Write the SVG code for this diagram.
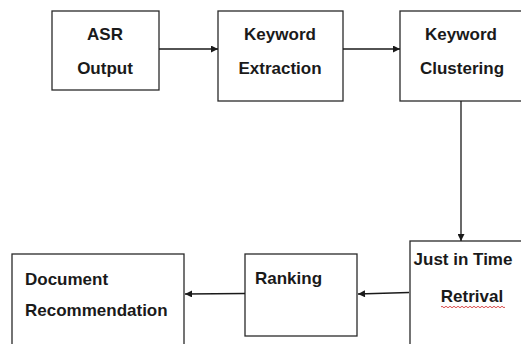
<svg xmlns="http://www.w3.org/2000/svg" width="521" height="344" viewBox="0 0 521 344">
<style>
.box{fill:#fff;stroke:#2a2a2a;stroke-width:1.3}
.t{font-family:"Liberation Sans",Arial,sans-serif;font-weight:bold;font-size:17px;fill:#1a1a1a}
.c{text-anchor:middle}
.e{stroke:#1a1a1a;stroke-width:1.3;fill:none}
</style>
<defs>
<marker id="ah" viewBox="0 0 10 10" refX="10" refY="5" markerWidth="8" markerHeight="7" markerUnits="userSpaceOnUse" orient="auto">
<path d="M0,0 L10,5 L0,10 z" fill="#1a1a1a"/>
</marker>
</defs>
<rect width="521" height="344" fill="#fff"/>
<g id="asr">
<rect class="box" x="52" y="11" width="107" height="79"/>
<text class="t c" x="105" y="40">ASR</text>
<text class="t c" x="105" y="74">Output</text>
</g>
<g id="extraction">
<rect class="box" x="218" y="11" width="125" height="90"/>
<text class="t c" x="280" y="40">Keyword</text>
<text class="t c" x="280" y="74">Extraction</text>
</g>
<g id="clustering">
<rect class="box" x="400" y="11" width="130" height="90"/>
<text class="t c" x="461" y="40">Keyword</text>
<text class="t c" x="462" y="74">Clustering</text>
</g>
<g id="jit">
<rect class="box" x="410" y="241" width="120" height="110"/>
<text class="t c" x="463" y="265">Just in Time</text>
<text class="t c" x="472" y="302">Retrival</text>
<path d="M441,307 q1,-1.5 2,0 t2,0 t2,0 t2,0 t2,0 t2,0 t2,0 t2,0 t2,0 t2,0 t2,0 t2,0 t2,0 t2,0 t2,0 t2,0 t2,0 t2,0 t2,0 t2,0 t2,0 t2,0 t2,0 t2,0 t2,0 t2,0 t2,0 t2,0 t2,0 t2,0 t2,0 t2,0" fill="none" stroke="#d02020" stroke-width="0.8"/>
</g>
<g id="ranking">
<rect class="box" x="245" y="254" width="112" height="82"/>
<text class="t" x="255" y="284">Ranking</text>
</g>
<g id="document">
<rect class="box" x="12" y="254" width="172" height="100"/>
<text class="t" x="25" y="285">Document</text>
<text class="t" x="25" y="316">Recommendation</text>
</g>
<g id="connectors">
<line class="e" x1="159" y1="49" x2="218" y2="49" marker-end="url(#ah)"/>
<line class="e" x1="343" y1="49" x2="400" y2="49" marker-end="url(#ah)"/>
<line class="e" x1="461" y1="101" x2="461" y2="241" marker-end="url(#ah)"/>
<line class="e" x1="409" y1="292.5" x2="358" y2="294" marker-end="url(#ah)"/>
<line class="e" x1="245" y1="293.5" x2="185" y2="294" marker-end="url(#ah)"/>
</g>
</svg>
